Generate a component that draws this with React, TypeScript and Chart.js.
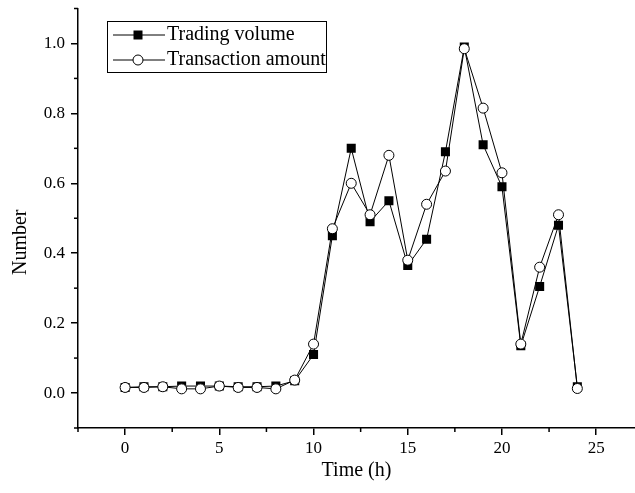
import React, { useEffect, useRef } from "react";
import { Chart, registerables } from "chart.js";

Chart.register(...registerables);

const hours = [0, 1, 2, 3, 4, 5, 6, 7, 8, 9, 10, 11, 12, 13, 14, 15, 16, 17, 18, 19, 20, 21, 22, 23, 24];
const tradingVolume = [0.016, 0.018, 0.018, 0.02, 0.02, 0.02, 0.018, 0.018, 0.02, 0.035, 0.11, 0.45, 0.70, 0.49, 0.55, 0.365, 0.44, 0.69, 0.99, 0.71, 0.59, 0.135, 0.305, 0.48, 0.018];
const transactionAmount = [0.016, 0.016, 0.018, 0.012, 0.012, 0.02, 0.016, 0.016, 0.012, 0.037, 0.14, 0.47, 0.60, 0.51, 0.68, 0.38, 0.54, 0.635, 0.985, 0.815, 0.63, 0.14, 0.36, 0.51, 0.013];
const seriesNames = ["Trading volume", "Transaction amount"];
const xTicks = [0, 5, 10, 15, 20, 25];
const yTicks = [0, 0.2, 0.4, 0.6, 0.8, 1.0];
const xTitle = "Time (h)";
const yTitle = "Number";

const FONT = "'Liberation Serif', 'Times New Roman', serif";

const decorPlugin = {
  id: "decor",
  afterDraw(chart: any) {
    const ctx = chart.ctx;
    const xs = chart.scales.x;
    const ys = chart.scales.y;
    const area = chart.chartArea;
    ctx.save();
    ctx.strokeStyle = "#000";
    ctx.lineWidth = 1.5;
    // minor ticks x
    for (let v = -2.5; v <= xs.max + 1e-9; v += 2.5) {
      if (Math.abs(v % 5) < 1e-9) continue;
      const px = xs.getPixelForValue(v);
      ctx.beginPath();
      ctx.moveTo(px, area.bottom);
      ctx.lineTo(px, area.bottom + 4);
      ctx.stroke();
    }
    // minor ticks y
    for (let i = -1; i <= 11; i += 2) {
      const v = i / 10;
      const py = ys.getPixelForValue(v);
      ctx.beginPath();
      ctx.moveTo(area.left, py);
      ctx.lineTo(area.left - 4, py);
      ctx.stroke();
    }
    // axis titles
    ctx.fillStyle = "#000";
    ctx.font = `20px ${FONT}`;
    ctx.textAlign = "center";
    ctx.textBaseline = "middle";
    ctx.fillText(xTitle, (area.left + area.right) / 2, 471);
    ctx.save();
    ctx.translate(21, (area.top + area.bottom) / 2 + 24);
    ctx.rotate(-Math.PI / 2);
    ctx.fillText(yTitle, 0, 0);
    ctx.restore();

    // legend
    const bx = 107.5, by = 21.5, bw = 219, bh = 51;
    ctx.lineWidth = 1;
    ctx.strokeStyle = "#000";
    ctx.strokeRect(bx, by, bw, bh);
    const rows = [35, 60];
    chart.data.datasets.forEach((ds: any, i: number) => {
      const y = rows[i];
      ctx.beginPath();
      ctx.lineWidth = 1;
      ctx.moveTo(113, y);
      ctx.lineTo(165, y);
      ctx.stroke();
      if (ds.pointStyle === "rect") {
        ctx.fillStyle = "#000";
        ctx.fillRect(138 - 4.5, y - 4.5, 9, 9);
      } else {
        ctx.beginPath();
        ctx.arc(138, y, 5, 0, Math.PI * 2);
        ctx.fillStyle = "#fff";
        ctx.fill();
        ctx.stroke();
      }
      ctx.fillStyle = "#000";
      ctx.textAlign = "left";
      ctx.textBaseline = "middle";
      ctx.font = `20px ${FONT}`;
      ctx.fillText(ds.label, 167, y);
    });
    ctx.restore();
  },
};

export default function App() {
  const ref = useRef<HTMLCanvasElement | null>(null);
  useEffect(() => {
    if (!ref.current) return;
    const chart = new Chart(ref.current, {
      type: "line",
      data: {
        datasets: [
          {
            label: seriesNames[0],
            data: hours.map((h, i) => ({ x: h, y: tradingVolume[i] })),
            borderColor: "#000",
            borderWidth: 1,
            pointStyle: "rect",
            pointRadius: 6.4,
            pointBackgroundColor: "#000",
            pointBorderColor: "#000",
            pointBorderWidth: 0,
            order: 1,
          },
          {
            label: seriesNames[1],
            data: hours.map((h, i) => ({ x: h, y: transactionAmount[i] })),
            borderColor: "#000",
            borderWidth: 1,
            pointStyle: "circle",
            pointRadius: 5,
            pointBackgroundColor: "#fff",
            pointBorderColor: "#000",
            pointBorderWidth: 1,
            order: 0,
          },
        ],
      },
      options: {
        responsive: false,
        animation: false,
        layout: { autoPadding: false, padding: { top: 8.5, right: 0, left: 0, bottom: 0 } },
        plugins: { legend: { display: false }, tooltip: { enabled: false } },
        scales: {
          x: {
            type: "linear",
            min: -2.5,
            max: 27.06,
            afterBuildTicks: (s: any) => {
              s.ticks = xTicks.map((v) => ({ value: v }));
            },
            afterFit: (s: any) => {
              s.height = 65;
              s.paddingLeft = 0;
              s.paddingRight = 0;
            },
            grid: { drawOnChartArea: false, drawTicks: true, tickLength: 7, color: "#000", lineWidth: 1.5 },
            border: { display: true, color: "#000", width: 1.5 },
            ticks: {
              color: "#000",
              padding: 3,
              maxRotation: 0,
              autoSkip: false,
              font: { family: FONT, size: 17 },
              callback: (v: any) => String(v),
            },
          },
          y: {
            type: "linear",
            min: -0.1,
            max: 1.1,
            afterBuildTicks: (s: any) => {
              s.ticks = yTicks.map((v) => ({ value: v }));
            },
            afterFit: (s: any) => {
              s.width = 78;
              s.paddingTop = 0;
              s.paddingBottom = 0;
            },
            grid: { drawOnChartArea: false, drawTicks: true, tickLength: 7, color: "#000", lineWidth: 1.5 },
            border: { display: true, color: "#000", width: 1.5 },
            ticks: {
              color: "#000",
              padding: 6,
              autoSkip: false,
              font: { family: FONT, size: 17 },
              callback: (v: any) => Number(v).toFixed(1),
            },
          },
        },
      },
      plugins: [decorPlugin],
    });
    return () => chart.destroy();
  }, []);
  return (
    <div style={{ position: "fixed", left: 0, top: 0, width: 635, height: 493, background: "#fff" }}>
      <canvas ref={ref} width={635} height={493} />
    </div>
  );
}
